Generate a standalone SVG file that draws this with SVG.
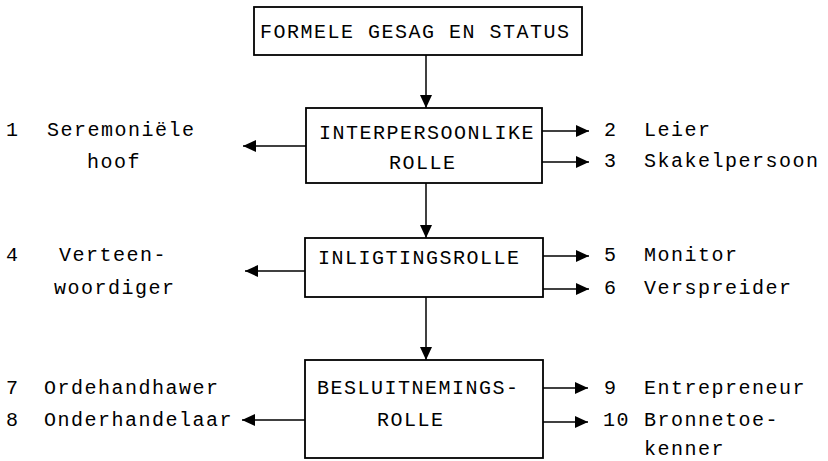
<svg xmlns="http://www.w3.org/2000/svg" width="828" height="461" viewBox="0 0 828 461">
<defs>
<marker id="ah" markerUnits="userSpaceOnUse" markerWidth="14" markerHeight="12" refX="13" refY="6" orient="auto">
<path d="M0,0 L13,6 L0,12 Z" fill="#000"/>
</marker>
<style>
text{font-family:"Liberation Mono","Courier New",monospace;font-size:20px;letter-spacing:1.5px;fill:#000}
.box{fill:#fff;stroke:#000;stroke-width:1.8}
.c line{stroke:#000;stroke-width:1.5;marker-end:url(#ah)}
</style>
</defs>
<rect width="828" height="461" fill="#fff"/>
<g id="formele">
<rect class="box" x="254" y="7" width="328" height="48"/>
<text x="260" y="38">FORMELE GESAG EN STATUS</text>
</g>
<g id="interpersoonlike">
<rect class="box" x="306" y="108" width="236" height="75"/>
<text x="319" y="139">INTERPERSOONLIKE</text>
<text x="389" y="169">ROLLE</text>
</g>
<g id="inligting">
<rect class="box" x="305" y="238" width="238" height="59"/>
<text x="318" y="264">INLIGTINGSROLLE</text>
</g>
<g id="besluit">
<rect class="box" x="305" y="360" width="238" height="98"/>
<text x="317" y="394">BESLUITNEMINGS-</text>
<text x="377" y="426">ROLLE</text>
</g>
<g class="c" id="connectors">
<line x1="426" y1="55" x2="426" y2="108"/>
<line x1="426" y1="183" x2="426" y2="238"/>
<line x1="426" y1="297" x2="426" y2="360"/>
<line x1="306" y1="146" x2="243" y2="146"/>
<line x1="542" y1="131" x2="589" y2="131"/>
<line x1="542" y1="162" x2="589" y2="162"/>
<line x1="305" y1="271" x2="245" y2="271"/>
<line x1="543" y1="256" x2="589" y2="256"/>
<line x1="543" y1="289" x2="589" y2="289"/>
<line x1="305" y1="420" x2="242" y2="420"/>
<line x1="543" y1="388" x2="588" y2="388"/>
<line x1="543" y1="422" x2="588" y2="422"/>
</g>
<g id="labels-left">
<text x="6" y="136">1</text><text x="47" y="136">Seremoniële</text>
<text x="87" y="168">hoof</text>
<text x="6" y="261">4</text><text x="59" y="261">Verteen-</text>
<text x="54" y="294">woordiger</text>
<text x="6" y="394">7</text><text x="44" y="394">Ordehandhawer</text>
<text x="6" y="426">8</text><text x="44" y="426">Onderhandelaar</text>
</g>
<g id="labels-right">
<text x="604" y="136">2</text><text x="644" y="136">Leier</text>
<text x="604" y="167">3</text><text x="644" y="167">Skakelpersoon</text>
<text x="604" y="261">5</text><text x="644" y="261">Monitor</text>
<text x="604" y="294">6</text><text x="644" y="294">Verspreider</text>
<text x="604" y="394">9</text><text x="644" y="394">Entrepreneur</text>
<text x="603" y="426">10</text><text x="644" y="426">Bronnetoe-</text>
<text x="644" y="455">kenner</text>
</g>
</svg>
